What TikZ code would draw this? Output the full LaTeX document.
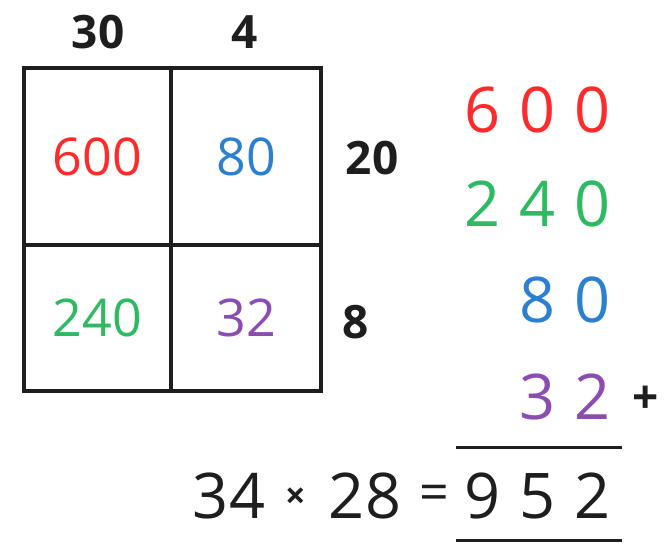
\documentclass[tikz,border=0pt]{standalone}
\usepackage{fontspec}
\setmainfont{Open Sans}
\definecolor{cred}{HTML}{FF2A2A}
\definecolor{cblue}{HTML}{2B80D2}
\definecolor{cgreen}{HTML}{2DBA63}
\definecolor{cpurple}{HTML}{8C4DB3}
\definecolor{cline}{HTML}{1E1E1E}
\begin{document}
\begin{tikzpicture}[x=1pt,y=-1pt,
  cell/.style={draw=cline,line width=3.8pt,inner sep=0pt,anchor=center,font=\fontsize{52}{52}\selectfont},
  lab/.style={inner sep=0pt,anchor=center,text=cline,font=\fontsize{46}{46}\selectfont\bfseries},
  dig/.style={inner sep=0pt,anchor=center,font=\fontsize{63}{63}\selectfont},
  eq/.style={inner sep=0pt,anchor=center,text=cline,font=\fontsize{63}{63}\selectfont},
  rule/.style={draw=cline,line width=3pt}]
\useasboundingbox (0,0) rectangle (664,542);
% grid cells
\node[cell,minimum width=147pt,minimum height=177pt,text=cred] (c11) at (97.5,156.5) {600};
\node[cell,minimum width=150pt,minimum height=177pt,text=cblue] (c12) at (246,156.5) {80};
\node[cell,minimum width=147pt,minimum height=146pt,text=cgreen] (c21) at (97.5,318) {240};
\node[cell,minimum width=150pt,minimum height=146pt,text=cpurple] (c22) at (246,318) {32};
% labels
\node[lab] (l30) at (98,32) {30};
\node[lab] (l4) at (245,32) {4};
\node[lab] (l20) at (372,158) {20};
\node[lab] (l8) at (356,322) {8};
% column addition
\node[dig,text=cred] (a1) at (483,110) {6};
\node[dig,text=cred] (a2) at (538,110) {0};
\node[dig,text=cred] (a3) at (593,110) {0};
\node[dig,text=cgreen] (b1) at (483,204) {2};
\node[dig,text=cgreen] (b2) at (538,204) {4};
\node[dig,text=cgreen] (b3) at (593,204) {0};
\node[dig,text=cblue] (d2) at (538,300) {8};
\node[dig,text=cblue] (d3) at (593,300) {0};
\node[dig,text=cpurple] (e2) at (538,397) {3};
\node[dig,text=cpurple] (e3) at (593,397) {2};
\node[inner sep=0pt,text=cline,font=\fontsize{46}{46}\selectfont\bfseries] (plus) at (646,400) {+};
\coordinate (r1a) at (456,447);
\coordinate (r1b) at (622,447);
\draw[rule] (r1a) -- (r1b);
\node[eq] (s1) at (483,496) {9};
\node[eq] (s2) at (538,496) {5};
\node[eq] (s3) at (593,496) {2};
\coordinate (r2a) at (456,540);
\coordinate (r2b) at (622,540);
\draw[rule] (r2a) -- (r2b);
% equation
\node[eq] (n34) at (229,496) {34};
\node[inner sep=0pt,text=cline,font=\fontsize{36}{36}\selectfont\bfseries] (times) at (296,498) {×};
\node[eq] (n28) at (365,496) {28};
\node[eq,font=\fontsize{52}{52}\selectfont] (equals) at (434,498) {=};
\end{tikzpicture}
\end{document}
